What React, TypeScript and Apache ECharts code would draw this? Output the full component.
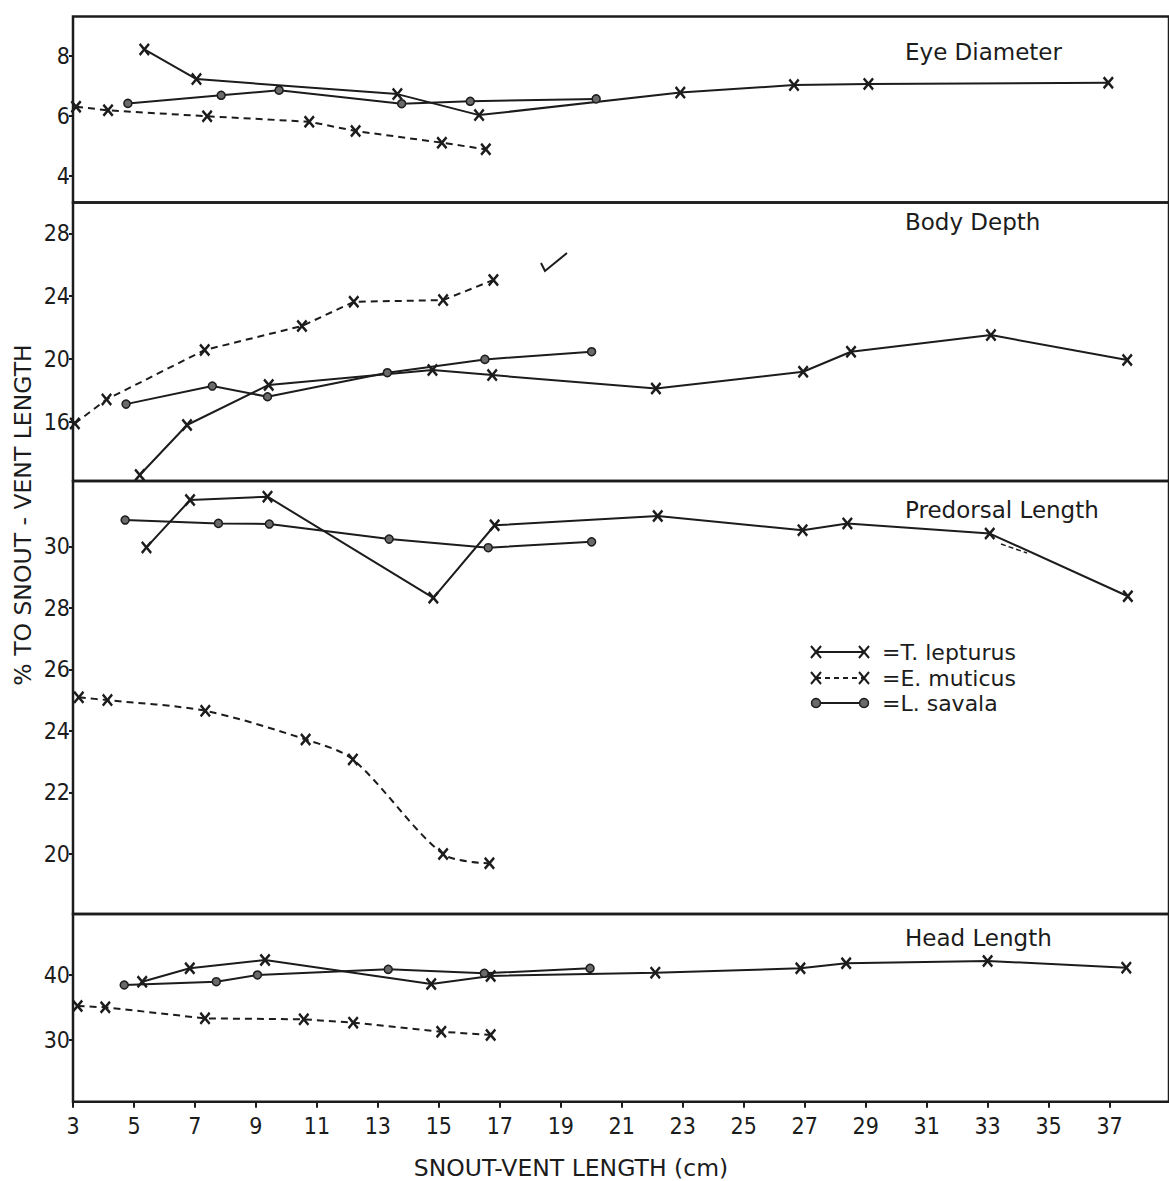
import React, { useEffect, useRef } from "react";
import * as echarts from "echarts";

// ---------- data ----------
const xTickValues = [3, 5, 7, 9, 11, 13, 15, 17, 19, 21, 23, 25, 27, 29, 31, 33, 35, 37];
const eyeTicks = [4, 6, 8];
const bodyTicks = [16, 20, 24, 28];
const predorsalTicks = [20, 22, 24, 26, 28, 30];
const headTicks = [30, 40];

const panelTitles = ["Eye Diameter", "Body Depth", "Predorsal Length", "Head Length"];
const speciesNames = ["T. lepturus", "E. muticus", "L. savala"];
const xAxisTitle = "SNOUT-VENT LENGTH (cm)";
const yAxisTitle = "% TO SNOUT - VENT LENGTH";

// Eye diameter
const eyeLepturusX = [5.34, 7.05, 13.64, 16.32, 22.92, 26.65, 29.09, 36.96];
const eyeLepturusY = [8.21, 7.22, 6.72, 6.02, 6.77, 7.02, 7.06, 7.1];
const eyeMuticusX = [3.1, 4.15, 7.4, 10.75, 12.27, 15.1, 16.54];
const eyeMuticusY = [6.3, 6.18, 5.98, 5.8, 5.49, 5.1, 4.88];
const eyeSavalaX = [4.8, 7.86, 9.76, 13.78, 16.03, 20.16];
const eyeSavalaY = [6.41, 6.68, 6.85, 6.4, 6.48, 6.56];

// Body depth
const bodyLepturusX = [5.19, 6.74, 9.42, 14.79, 16.75, 22.12, 26.95, 28.52, 33.11, 37.58];
const bodyLepturusY = [12.6, 15.79, 18.34, 19.29, 18.97, 18.12, 19.18, 20.46, 21.52, 19.93];
const bodyMuticusX = [3.06, 4.1, 7.32, 10.51, 12.21, 15.14, 16.79];
const bodyMuticusY = [15.89, 17.42, 20.57, 22.1, 23.64, 23.75, 25.03];
const bodySavalaX = [4.74, 7.57, 9.38, 13.31, 16.51, 20.01];
const bodySavalaY = [17.12, 18.27, 17.59, 19.12, 19.97, 20.46];

// Predorsal length
const preLepturusX = [5.41, 6.84, 9.38, 14.82, 16.83, 22.18, 26.93, 28.4, 33.07, 37.6];
const preLepturusY = [29.97, 31.51, 31.62, 28.33, 30.69, 30.99, 30.53, 30.75, 30.42, 28.38];
const preMuticusX = [3.19, 4.13, 7.34, 10.63, 12.18, 15.14, 16.66];
const preMuticusY = [25.09, 25.0, 24.65, 23.72, 23.07, 19.99, 19.69];
const preSavalaX = [4.71, 7.77, 9.44, 13.37, 16.62, 20.01];
const preSavalaY = [30.86, 30.75, 30.73, 30.24, 29.96, 30.15];

// Head length
const headLepturusX = [5.27, 6.83, 9.3, 14.75, 16.7, 22.1, 26.86, 28.36, 33.0, 37.55];
const headLepturusY = [38.97, 41.03, 42.31, 38.62, 39.85, 40.36, 41.03, 41.8, 42.15, 41.13];
const headMuticusX = [3.15, 4.06, 7.33, 10.57, 12.19, 15.08, 16.7];
const headMuticusY = [35.23, 35.03, 33.33, 33.18, 32.67, 31.28, 30.77];
const headSavalaX = [4.68, 7.7, 9.05, 13.34, 16.49, 19.96];
const headSavalaY = [38.46, 38.97, 40.0, 40.87, 40.26, 41.03];

// ---------- styling / layout ----------
const INK = "#1c1c1c";
const FONT = '"DejaVu Sans", "Liberation Sans", sans-serif';
const NARROW = '"Liberation Sans Narrow", "DejaVu Sans Condensed", "DejaVu Sans", sans-serif';
const X_SYMBOL =
  "path://M0,1.5L1.5,0L5,3.5L8.5,0L10,1.5L6.5,5L10,8.5L8.5,10L5,6.5L1.5,10L0,8.5L3.5,5Z";

const zip = (xs: number[], ys: number[]) => xs.map((x, i) => [x, ys[i]]);

const panels = [
  { top: 16.5, height: 186, min: 3.107, max: 9.307, ticks: eyeTicks,
    data: [zip(eyeLepturusX, eyeLepturusY), zip(eyeMuticusX, eyeMuticusY), zip(eyeSavalaX, eyeSavalaY)], titleY: 52 },
  { top: 202.5, height: 278.5, min: 12.22, max: 29.97, ticks: bodyTicks,
    data: [zip(bodyLepturusX, bodyLepturusY), zip(bodyMuticusX, bodyMuticusY), zip(bodySavalaX, bodySavalaY)], titleY: 222 },
  { top: 481, height: 433, min: 18.04, max: 32.13, ticks: predorsalTicks,
    data: [zip(preLepturusX, preLepturusY), zip(preMuticusX, preMuticusY), zip(preSavalaX, preSavalaY)], titleY: 510 },
  { top: 914, height: 187.7, min: 20.51, max: 49.38, ticks: headTicks,
    data: [zip(headLepturusX, headLepturusY), zip(headMuticusX, headMuticusY), zip(headSavalaX, headSavalaY)], titleY: 938 },
];

const GRID_LEFT = 73;
const GRID_WIDTH = 1100;
const X_MIN = 3;
const X_MAX = 38.95;

function xMark(cx: number, cy: number) {
  return [
    { type: "line", shape: { x1: cx - 5, y1: cy - 6, x2: cx + 5, y2: cy + 6 }, style: { stroke: INK, lineWidth: 2 } },
    { type: "line", shape: { x1: cx + 5, y1: cy - 6, x2: cx - 5, y2: cy + 6 }, style: { stroke: INK, lineWidth: 2 } },
  ];
}

function buildOption() {
  const grid = panels.map((p) => ({
    left: GRID_LEFT,
    top: p.top,
    width: GRID_WIDTH,
    height: p.height,
    show: true,
    borderColor: INK,
    borderWidth: 2.5,
    backgroundColor: "transparent",
  }));

  const xAxis = panels.map((_, i) => {
    const last = i === panels.length - 1;
    return {
      type: "value",
      gridIndex: i,
      min: X_MIN,
      max: X_MAX,
      axisLine: { show: false },
      splitLine: { show: false },
      axisTick: last
        ? { show: true, customValues: xTickValues, length: 6, inside: false, lineStyle: { color: INK, width: 2 } }
        : { show: false },
      axisLabel: last
        ? { show: true, customValues: xTickValues, fontSize: 23, margin: 13, color: INK, fontFamily: NARROW }
        : { show: false },
    };
  });

  const yAxis = panels.map((p, i) => ({
    type: "value",
    gridIndex: i,
    min: p.min,
    max: p.max,
    axisLine: { show: false },
    splitLine: { show: false },
    axisTick: { show: true, customValues: p.ticks, length: 4, inside: false, lineStyle: { color: INK, width: 2 } },
    axisLabel: { show: true, customValues: p.ticks, fontSize: 23, margin: 3, color: INK, fontFamily: NARROW },
  }));

  const series: any[] = [];
  panels.forEach((p, i) => {
    speciesNames.forEach((name, s) => {
      const isSavala = s === 2;
      const dashed = s === 1;
      series.push({
        type: "line",
        name,
        xAxisIndex: i,
        yAxisIndex: i,
        data: p.data[s],
        smooth: dashed && i === 2 ? 0.3 : false,
        symbol: isSavala ? "circle" : X_SYMBOL,
        symbolSize: isSavala ? 8 : [11, 13],
        showSymbol: true,
        itemStyle: isSavala
          ? { color: "#6a6a6a", borderColor: INK, borderWidth: 1.5 }
          : { color: INK, borderWidth: 0 },
        lineStyle: { color: INK, width: 2, type: dashed ? [7, 5] : "solid" },
        z: 3,
      });
    });
  });

  const graphic: any[] = [];
  panels.forEach((p, i) => {
    graphic.push({
      type: "text",
      x: 905,
      y: p.titleY,
      style: { text: panelTitles[i], fontSize: 23, fontFamily: FONT, fill: INK, align: "left", verticalAlign: "middle" },
    });
  });

  graphic.push({
    type: "text",
    x: 571,
    y: 1168,
    style: { text: xAxisTitle, fontSize: 23.5, fontFamily: FONT, fill: INK, align: "center", verticalAlign: "middle" },
  });
  graphic.push({
    type: "text",
    x: 23,
    y: 515,
    rotation: Math.PI / 2,
    style: { text: yAxisTitle, fontSize: 23.5, fontFamily: FONT, fill: INK, align: "center", verticalAlign: "middle" },
  });

  // legend
  const legendRowsY = [652, 678, 703];
  speciesNames.forEach((name, i) => {
    const y = legendRowsY[i];
    const lineStyle: any = { stroke: INK, lineWidth: 2 };
    if (i === 1) lineStyle.lineDash = [5, 4];
    graphic.push({ type: "line", shape: { x1: 816, y1: y, x2: 864, y2: y }, style: lineStyle });
    if (i === 2) {
      graphic.push({ type: "circle", shape: { cx: 816, cy: y, r: 4.5 }, style: { fill: "#6a6a6a", stroke: INK, lineWidth: 1.5 } });
      graphic.push({ type: "circle", shape: { cx: 864, cy: y, r: 4.5 }, style: { fill: "#6a6a6a", stroke: INK, lineWidth: 1.5 } });
    } else {
      graphic.push(...xMark(816, y), ...xMark(864, y));
    }
    graphic.push({
      type: "text",
      x: 882,
      y,
      style: { text: "=" + name, fontSize: 22, fontFamily: FONT, fill: INK, align: "left", verticalAlign: "middle" },
    });
  });

  // hand annotations on the original sheet
  graphic.push({
    type: "polyline",
    shape: { points: [[541, 263], [545, 271], [567, 253]] },
    style: { stroke: INK, lineWidth: 2, fill: "none" },
  });
  graphic.push({
    type: "line",
    shape: { x1: 1001, y1: 544, x2: 1027, y2: 553 },
    style: { stroke: INK, lineWidth: 1.5, lineDash: [5, 3] },
  });

  return {
    animation: false,
    backgroundColor: "#ffffff",
    textStyle: { fontFamily: FONT },
    grid,
    xAxis,
    yAxis,
    series,
    graphic,
  };
}

export default function App() {
  const ref = useRef<HTMLDivElement | null>(null);
  useEffect(() => {
    if (!ref.current) return;
    const chart = echarts.init(ref.current, undefined, { renderer: "svg" });
    chart.setOption(buildOption() as any);
    return () => chart.dispose();
  }, []);
  return (
    <div
      ref={ref}
      style={{ position: "absolute", left: 0, top: 0, width: 1169, height: 1181, background: "#fff" }}
    />
  );
}
